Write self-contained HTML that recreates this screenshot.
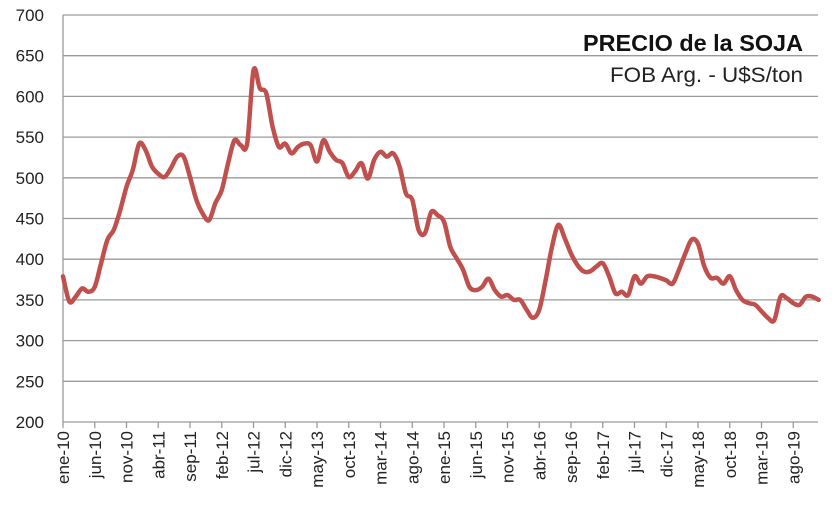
<!DOCTYPE html>
<html><head><meta charset="utf-8"><style>
html,body{margin:0;padding:0;background:#fff;}
svg{display:block;font-family:"Liberation Sans",sans-serif;}
</style></head><body>
<svg id="chart" width="840" height="518">
<g id="grid"></g>
<g id="yaxis"></g>
<g id="xaxis"></g>
<path id="line" fill="none" stroke="#c0504d" stroke-width="4.5" stroke-linejoin="round" stroke-linecap="round"/>
<text x="803" y="51" text-anchor="end" font-size="23" font-weight="bold" fill="#111" textLength="220" lengthAdjust="spacingAndGlyphs">PRECIO de la SOJA</text>
<text x="803" y="82" text-anchor="end" font-size="21" fill="#222" textLength="193" lengthAdjust="spacingAndGlyphs">FOB Arg. - U$S/ton</text>
</svg>
<script>
const yTicks=[200,250,300,350,400,450,500,550,600,650,700];
const xLabels=["ene-10","jun-10","nov-10","abr-11","sep-11","feb-12","jul-12","dic-12","may-13","oct-13","mar-14","ago-14","ene-15","jun-15","nov-15","abr-16","sep-16","feb-17","jul-17","dic-17","may-18","oct-18","mar-19","ago-19"];
const prices=[379,348,354,364,360,366,395,424,436,460,489,510,542,534,514,505,501,512,526,526,501,473,456,448,469,485,518,546,540,542,632,610,604,563,538,542,530,538,542,540,520,546,532,522,518,501,508,518,499,522,532,526,530,514,481,473,436,432,458,454,446,415,401,387,366,362,366,376,362,354,356,350,350,338,328,338,374,415,442,426,407,393,385,385,391,395,379,358,360,356,379,370,379,379,377,374,370,387,407,424,419,391,377,377,370,379,362,350,346,344,336,328,325,354,352,346,344,354,354,350];
const NS="http://www.w3.org/2000/svg";
const x0=63,dx=6.35,yTop=15,yBot=422;
function xs(i){return x0+i*dx;}
function ys(v){return yBot-(v-200)*(yBot-yTop)/500;}
const grid=document.getElementById('grid'),ya=document.getElementById('yaxis'),xa=document.getElementById('xaxis');
yTicks.forEach(t=>{
  const l=document.createElementNS(NS,'line');
  l.setAttribute('x1',x0);l.setAttribute('x2',818);l.setAttribute('y1',ys(t));l.setAttribute('y2',ys(t));
  l.setAttribute('stroke','#9a9a9a');l.setAttribute('stroke-width','1.3');
  
  
  grid.appendChild(l);
  const tx=document.createElementNS(NS,'text');
  tx.setAttribute('x',44);tx.setAttribute('y',ys(t)+6);tx.setAttribute('text-anchor','end');
  tx.setAttribute('font-size','17');tx.setAttribute('fill','#222');
  tx.textContent=t;
  
  
  ya.appendChild(tx);
});
const ax=document.createElementNS(NS,'line');
ax.setAttribute('x1',x0);ax.setAttribute('x2',x0);ax.setAttribute('y1',yTop);ax.setAttribute('y2',yBot);
ax.setAttribute('stroke','#9a9a9a');ax.setAttribute('stroke-width','1.3');


ya.appendChild(ax);
xLabels.forEach((s,k)=>{
  const x=xs(k*5);
  const tk=document.createElementNS(NS,'line');
  tk.setAttribute('x1',x);tk.setAttribute('x2',x);tk.setAttribute('y1',yBot);tk.setAttribute('y2',yBot+6);
  tk.setAttribute('stroke','#9a9a9a');tk.setAttribute('stroke-width','1.3');
  
  
  xa.appendChild(tk);
  const tx=document.createElementNS(NS,'text');
  tx.setAttribute('transform','translate('+(x+6)+','+(yBot+9)+') rotate(-90)');
  tx.setAttribute('text-anchor','end');tx.setAttribute('font-size','17');tx.setAttribute('fill','#222');
  tx.textContent=s;
  
  
  xa.appendChild(tx);
});
const pts=prices.map((v,i)=>[xs(i),ys(v)]);
let d='M'+pts[0][0]+','+pts[0][1];
for(let i=0;i<pts.length-1;i++){
  const p0=pts[Math.max(0,i-1)],p1=pts[i],p2=pts[i+1],p3=pts[Math.min(pts.length-1,i+2)];
  const c1=[p1[0]+(p2[0]-p0[0])/6,p1[1]+(p2[1]-p0[1])/6];
  const c2=[p2[0]-(p3[0]-p1[0])/6,p2[1]-(p3[1]-p1[1])/6];
  d+=' C'+c1[0]+','+c1[1]+' '+c2[0]+','+c2[1]+' '+p2[0]+','+p2[1];
}
document.getElementById('line').setAttribute('d',d);
</script>
</body></html>
